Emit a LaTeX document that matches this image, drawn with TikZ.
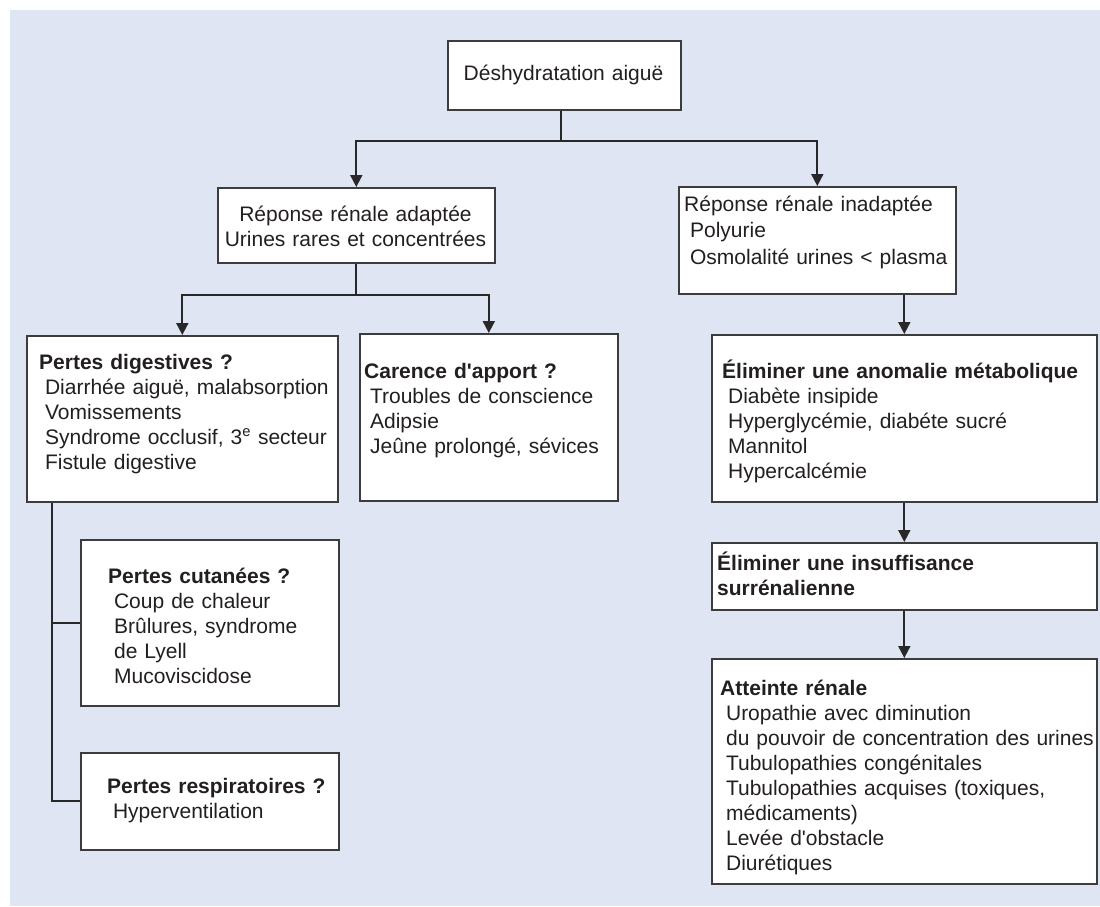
\documentclass[tikz,border=0pt]{standalone}
\usepackage{fontspec}
\newfontfamily\lib{Liberation Sans}
\usetikzlibrary{arrows.meta}
\definecolor{bg}{RGB}{223,229,242}
\definecolor{ln}{RGB}{40,40,40}
\definecolor{bx}{RGB}{60,60,60}
\definecolor{tx}{RGB}{35,31,32}
\newcommand{\ind}{\hspace*{0.28em}}
\begin{document}
\begin{tikzpicture}[x=1pt,y=-1pt,
  box/.style={draw=bx, line width=1.6pt, fill=white, inner sep=0pt, rectangle, anchor=north west},
  txt/.style={inner sep=0pt, anchor=base west, text width=390pt, align=left, text=tx, font=\lib\fontsize{21}{25}\selectfont},
  ctxt/.style={inner sep=0pt, anchor=base, text width=270pt, align=center, text=tx, font=\lib\fontsize{21}{25}\selectfont},
  conn/.style={draw=ln, line width=1.8pt},
  arr/.style={conn, -{Triangle[length=12pt,width=12pt]}}]
\useasboundingbox (0,0) rectangle (1100,906);
\fill[bg] (10,10) rectangle (1100,906);

% boxes
\node[box, minimum width=233pt, minimum height=69pt] (top) at (447,40) {};
\node[box, minimum width=277pt, minimum height=75pt] (adapt) at (217,187) {};
\node[box, minimum width=277pt, minimum height=107pt] (inad) at (678,186) {};
\node[box, minimum width=311pt, minimum height=166pt] (pd) at (26,335) {};
\node[box, minimum width=258pt, minimum height=167pt] (car) at (359,333) {};
\node[box, minimum width=258pt, minimum height=166pt] (cut) at (80,539) {};
\node[box, minimum width=258pt, minimum height=97pt] (resp) at (80,752) {};
\node[box, minimum width=385pt, minimum height=167pt] (anom) at (711,334) {};
\node[box, minimum width=385pt, minimum height=67pt] (ins) at (711,542) {};
\node[box, minimum width=385pt, minimum height=225pt] (att) at (711,658) {};

% texts
\node[ctxt] (topt) at (563.5,80) {Déshydratation aiguë};
\node[ctxt] (adaptt) at (355.5,221) {Réponse rénale adaptée\\Urines rares et concentrées};
\node[txt, font=\lib\fontsize{21}{26.5}\selectfont] (inadt) at (684,211) {Réponse rénale inadaptée\\\ind Polyurie\\\ind Osmolalité urines < plasma};
\node[txt] (pdt) at (39,369) {\textbf{Pertes digestives ?}\\\ind Diarrhée aiguë, malabsorption\\\ind Vomissements\\\ind Syndrome occlusif, 3\textsuperscript{e} secteur\\\ind Fistule digestive};
\node[txt] (cart) at (364,378) {\textbf{Carence d'apport ?}\\\ind Troubles de conscience\\\ind Adipsie\\\ind Jeûne prolongé, sévices};
\node[txt] (cutt) at (108,583) {\textbf{Pertes cutanées ?}\\\ind Coup de chaleur\\\ind Brûlures, syndrome\\\ind de Lyell\\\ind Mucoviscidose};
\node[txt] (respt) at (107,793) {\textbf{Pertes respiratoires ?}\\\ind Hyperventilation};
\node[txt] (anomt) at (722,378) {\textbf{Éliminer une anomalie métabolique}\\\ind Diabète insipide\\\ind Hyperglycémie, diabéte sucré\\\ind Mannitol\\\ind Hypercalcémie};
\node[txt] (inst) at (717,570) {\textbf{Éliminer une insuffisance}\\\textbf{surrénalienne}};
\node[txt] (attt) at (720,695) {\textbf{Atteinte rénale}\\\ind Uropathie avec diminution\\\ind du pouvoir de concentration des urines\\\ind Tubulopathies congénitales\\\ind Tubulopathies acquises (toxiques,\\\ind médicaments)\\\ind Levée d'obstacle\\\ind Diurétiques};

% connectors
\coordinate (j1) at (561,141);
\draw[conn] (top.south -| j1) -- (j1);
\draw[arr] (j1) -| (adapt.north);
\draw[arr] (j1) -| (inad.north);
\path (adapt.south) ++(0,31) coordinate (j2);
\draw[conn] (adapt.south) -- (j2);
\draw[arr] (j2) -| (pd.north);
\draw[arr] (j2) -| (car.north);
\coordinate (vx) at (52,0);
\draw[conn] (pd.south -| vx) |- (resp.west);
\draw[conn] (cut.west) -- (cut.west -| vx);
\draw[arr] (anom.north |- inad.south) -- (anom.north);
\draw[arr] (anom.south) -- (ins.north);
\draw[arr] (ins.south) -- (att.north);
\end{tikzpicture}
\end{document}
